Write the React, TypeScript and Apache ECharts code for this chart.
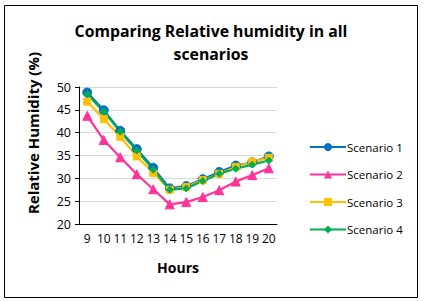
import React, { useEffect, useRef } from "react";
import * as echarts from "echarts";

const hours = ["9", "10", "11", "12", "13", "14", "15", "16", "17", "18", "19", "20"];
const scenario1 = [48.8, 44.9, 40.4, 36.4, 32.3, 27.8, 28.3, 29.8, 31.4, 32.8, 33.5, 34.8];
const scenario2 = [43.7, 38.4, 34.6, 30.9, 27.6, 24.3, 24.8, 25.9, 27.4, 29.3, 30.7, 32.2];
const scenario3 = [46.8, 43.0, 39.1, 34.8, 31.2, 27.5, 28.1, 29.6, 31.0, 32.5, 33.6, 34.5];
const scenario4 = [48.4, 44.6, 40.2, 36.1, 31.9, 27.5, 27.8, 29.4, 31.0, 32.1, 33.0, 33.9];
const seriesNames = ["Scenario 1", "Scenario 2", "Scenario 3", "Scenario 4"];
const colors = ["#0070C0", "#FF3399", "#FFC000", "#00B050"];
const symbols = ["circle", "triangle", "rect", "diamond"];
const symbolSizes = [9, 9, 7, 7];
const yTicks = { min: 20, max: 50, interval: 5 };

const FONT = "'Open Sans', 'Liberation Sans', sans-serif";

export default function App() {
  const ref = useRef<HTMLDivElement>(null);
  useEffect(() => {
    if (!ref.current) return;
    const chart = echarts.init(ref.current, null, { renderer: "svg" });
    const data = [scenario1, scenario2, scenario3, scenario4];
    chart.setOption({
      animation: false,
      backgroundColor: "#fff",
      title: {
        text: "Comparing Relative humidity in all\nscenarios",
        left: 206,
        top: 14,
        textAlign: "center",
        textStyle: { fontFamily: FONT, fontWeight: "bold", fontSize: 15.8, lineHeight: 23, color: "#000" },
      },
      grid: { left: 79, right: 148, top: 87, bottom: 77 },
      legend: {
        orient: "vertical",
        left: 304,
        top: 136,
        itemWidth: 36,
        itemHeight: 10,
        itemGap: 15.5,
        data: seriesNames,
        textStyle: { fontFamily: FONT, fontSize: 11.5, color: "#000", padding: [0, 0, 0, -4] },
      },
      xAxis: {
        type: "category",
        data: hours,
        boundaryGap: true,
        axisLine: { lineStyle: { color: "#000", width: 1 } },
        axisTick: { alignWithLabel: true, length: 4, lineStyle: { color: "#000" } },
        axisLabel: { interval: 0, fontFamily: FONT, fontSize: 12, color: "#000", margin: 8 },
      },
      yAxis: {
        type: "value",
        min: yTicks.min,
        max: yTicks.max,
        interval: yTicks.interval,
        axisLine: { show: true, lineStyle: { color: "#000", width: 1 } },
        axisTick: { show: true, length: 4, lineStyle: { color: "#000" } },
        axisLabel: { fontFamily: FONT, fontSize: 12.5, color: "#000", margin: 8 },
        splitLine: { lineStyle: { color: "#D9D9D9" } },
      },
      graphic: [
        {
          type: "rect",
          shape: { x: 4.5, y: 5.5, width: 413, height: 292 },
          style: { fill: "none", stroke: "#000", lineWidth: 1 },
          z: 100,
        },
        {
          type: "text",
          x: 178,
          y: 267,
          style: {
            text: "Hours",
            fontFamily: FONT,
            fontWeight: "bold",
            fontSize: 14,
            fill: "#000",
            align: "center",
            verticalAlign: "middle",
          },
        },
        {
          type: "text",
          x: 33,
          y: 133,
          rotation: Math.PI / 2,
          style: {
            text: "Relative Humidity (%)",
            fontFamily: FONT,
            fontWeight: "bold",
            fontSize: 15,
            fill: "#000",
            align: "center",
            verticalAlign: "middle",
          },
        },
      ],
      series: data.map((d, i) => ({
        name: seriesNames[i],
        type: "line",
        data: d,
        symbol: symbols[i],
        symbolSize: symbolSizes[i],
        showAllSymbol: true,
        lineStyle: { color: colors[i], width: 2.2 },
        itemStyle: { color: colors[i], borderColor: colors[i] },
      })),
    });
    return () => chart.dispose();
  }, []);
  return <div ref={ref} style={{ position: "fixed", left: 0, top: 0, width: 425, height: 301 }} />;
}
